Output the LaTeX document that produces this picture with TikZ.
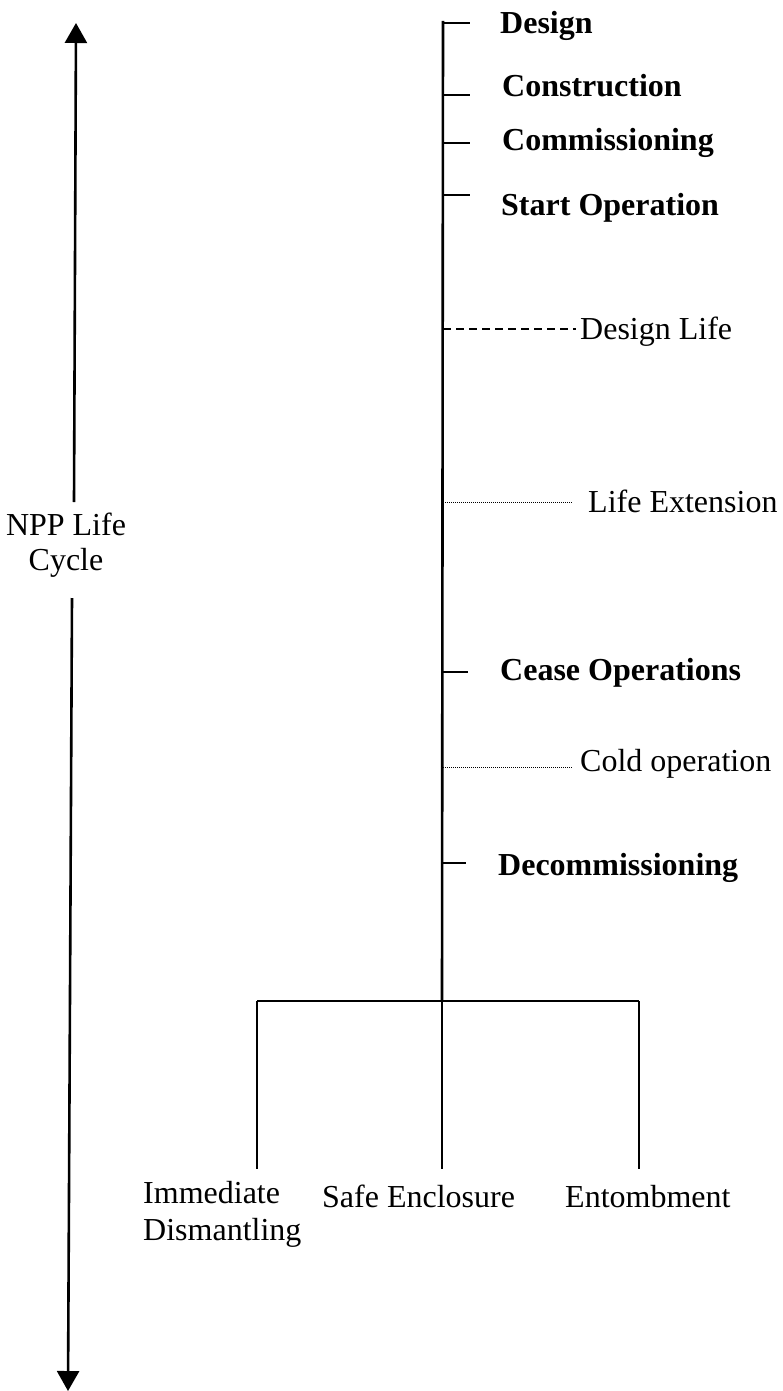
\documentclass[tikz,border=0pt]{standalone}
\usepackage{fontspec}
\setmainfont{Liberation Serif}
\usetikzlibrary{arrows.meta}
\begin{document}
\begin{tikzpicture}[x=1pt,y=-1pt,
  lbl/.style={font=\fontsize{32}{36}\selectfont, inner sep=0pt, anchor=base west},
  blbl/.style={lbl, font=\fontsize{32}{36}\selectfont\bfseries},
  spine/.style={line width=2.6pt},
  ticksty/.style={line width=2pt},
  dashsty/.style={line width=2pt, dash pattern=on 8pt off 5pt},
  dotsty/.style={line width=1pt, dash pattern=on 1pt off 1pt},
  arr/.style={line width=2.6pt, -{Triangle[width=22pt,length=20pt]}}]
\useasboundingbox (0,0) rectangle (782,1391);

% left life-cycle arrow
\node[font=\fontsize{32}{35}\selectfont, align=center, inner sep=0pt] (npp) at (66,545) {NPP Life\\Cycle};
\coordinate (upS) at (74,502);
\coordinate (upT) at (76,23);
\coordinate (dnS) at (72,598);
\coordinate (dnT) at (68,1391);
\draw[arr] (upS) -- (upT);
\draw[arr] (dnS) -- (dnT);

% spine
\coordinate (top) at (443,21);
\coordinate (junc) at (442,1001);
\draw[spine] (top) -- (junc);

% stage labels
\node[blbl] (design) at (500,34) {Design};
\node[blbl] (constr) at (502,97) {Construction};
\node[blbl] (comm) at (502,151) {Commissioning};
\node[blbl] (start) at (501,215) {Start Operation};
\node[lbl] (dlife) at (580,339) {Design Life};
\node[lbl] (lext) at (588,512) {Life Extension};
\node[blbl] (cease) at (500,680) {Cease Operations};
\node[lbl] (cold) at (580,771) {Cold operation};
\node[blbl] (decom) at (498,875) {Decommissioning};

% ticks
\coordinate (t1a) at (443,23);  \coordinate (t1b) at (470,23);
\coordinate (t2a) at (443,95);  \coordinate (t2b) at (470,95);
\coordinate (t3a) at (443,143); \coordinate (t3b) at (470,143);
\coordinate (t4a) at (443,195); \coordinate (t4b) at (470,195);
\coordinate (t5a) at (443,672); \coordinate (t5b) at (468,672);
\coordinate (t6a) at (443,863); \coordinate (t6b) at (466,863);
\draw[ticksty] (t1a) -- (t1b);
\draw[ticksty] (t2a) -- (t2b);
\draw[ticksty] (t3a) -- (t3b);
\draw[ticksty] (t4a) -- (t4b);
\draw[ticksty] (t5a) -- (t5b);
\draw[ticksty] (t6a) -- (t6b);

\coordinate (dla) at (443,329); \coordinate (dlb) at (576,329);
\draw[dashsty] (dla) -- (dlb);
\coordinate (lea) at (443,502); \coordinate (leb) at (573,502);
\draw[dotsty] (lea) -- (leb);
\coordinate (coa) at (443,767); \coordinate (cob) at (573,767);
\draw[dotsty] (coa) -- (cob);

% decommissioning options
\coordinate (bl) at (257,1001);
\coordinate (br) at (639,1001);
\draw[spine] (bl) -- (br);
\coordinate (ol) at (257,1169);
\coordinate (om) at (442,1169);
\coordinate (or) at (639,1169);
\draw[spine] (bl) -- (ol);
\draw[spine] (junc) -- (om);
\draw[spine] (br) -- (or);

\node[font=\fontsize{32}{37}\selectfont, align=left, inner sep=0pt, anchor=north west] (imm) at (143,1181) {Immediate\\Dismantling};
\node[lbl] (safe) at (322,1207) {Safe Enclosure};
\node[lbl] (ent) at (565,1207) {Entombment};
\end{tikzpicture}
\end{document}
